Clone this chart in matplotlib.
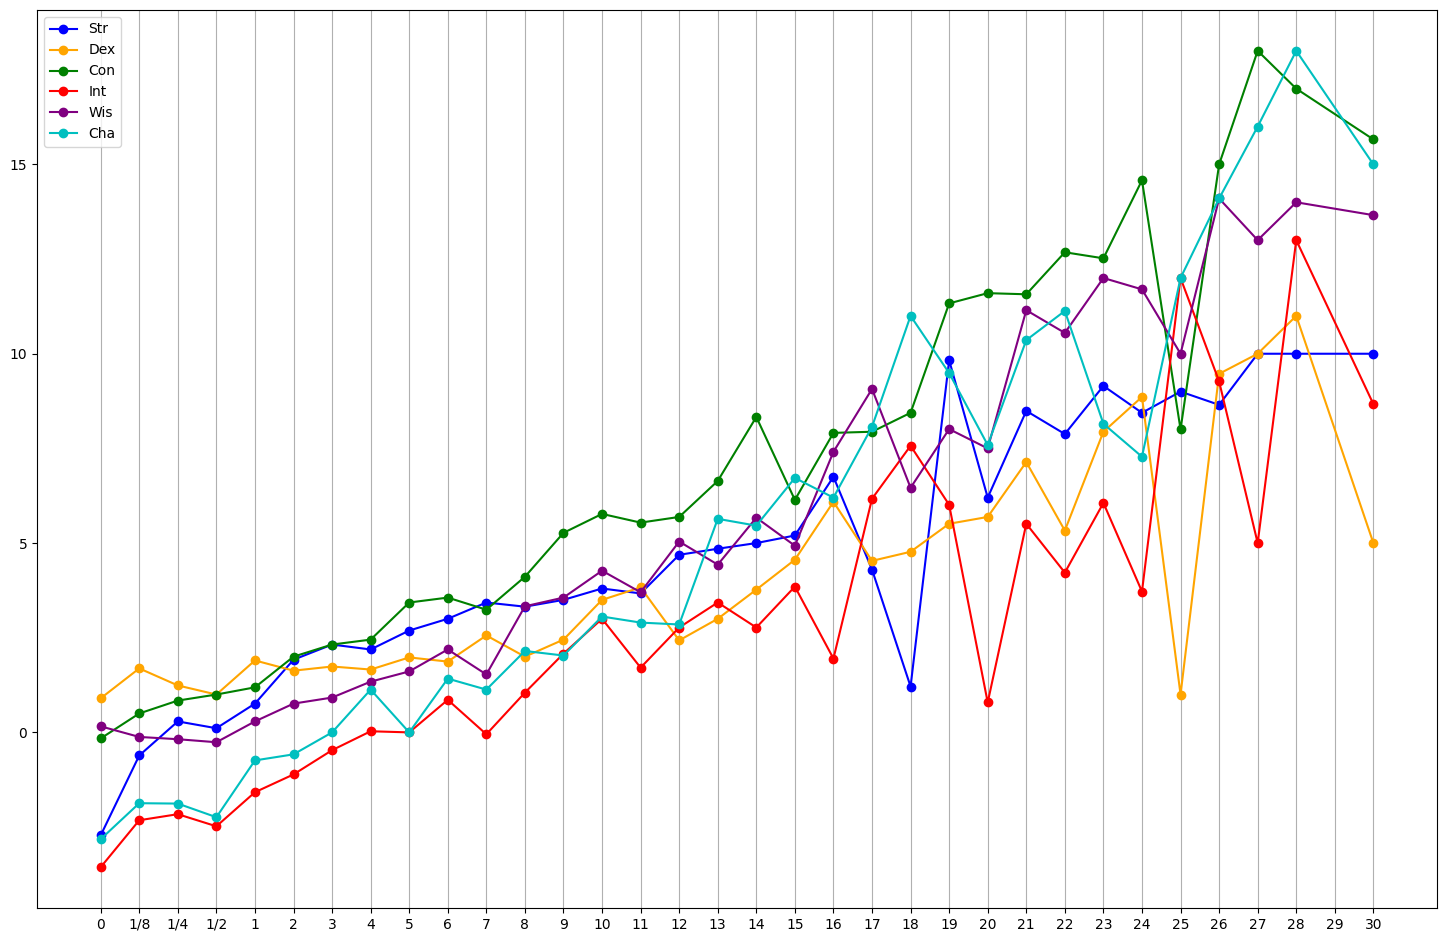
import matplotlib
matplotlib.use('Agg')
import matplotlib.pyplot as plt

# x axis categories (29 has no data)
tick_labels = ['0', '1/8', '1/4', '1/2'] + [str(i) for i in range(1, 31)]
levels = ['0', '1/8', '1/4', '1/2'] + [str(i) for i in range(1, 29)] + ['30']

str_vals = [-2.72, -0.61, 0.29, 0.11, 0.76, 1.92, 2.32, 2.19, 2.69, 3.0, 3.43, 3.32, 3.5, 3.8, 3.67,
            4.69, 4.85, 5.0, 5.2, 6.75, 4.3, 1.21, 9.83, 6.2, 8.49, 7.88, 9.15, 8.44, 9.0, 8.65,
            10.0, 10.0, 10.0]
dex_vals = [0.9, 1.69, 1.24, 1.0, 1.9, 1.63, 1.74, 1.66, 1.98, 1.87, 2.56, 2.0, 2.45, 3.5, 3.83,
            2.43, 3.0, 3.77, 4.56, 6.09, 4.53, 4.77, 5.51, 5.69, 7.14, 5.33, 7.94, 8.86, 1.0, 9.47,
            10.0, 11.0, 5.0]
con_vals = [-0.16, 0.5, 0.84, 1.0, 1.19, 2.0, 2.32, 2.45, 3.43, 3.56, 3.24, 4.11, 5.27, 5.77, 5.54,
            5.69, 6.64, 8.33, 6.14, 7.91, 7.94, 8.44, 11.33, 11.6, 11.57, 12.68, 12.52, 14.58, 8.0, 15.0,
            18.0, 17.0, 15.66]
int_vals = [-3.56, -2.32, -2.16, -2.48, -1.58, -1.11, -0.47, 0.03, 0.0, 0.86, -0.05, 1.05, 2.08, 3.0, 1.71,
            2.77, 3.43, 2.77, 3.85, 1.95, 6.17, 7.57, 6.01, 0.79, 5.51, 4.22, 6.06, 3.72, 12.0, 9.27,
            5.0, 13.0, 8.67]
wis_vals = [0.16, -0.12, -0.18, -0.26, 0.29, 0.76, 0.92, 1.34, 1.61, 2.19, 1.53, 3.33, 3.56, 4.27, 3.7,
            5.04, 4.43, 5.67, 4.93, 7.41, 9.07, 6.46, 8.01, 7.5, 11.15, 10.55, 12.0, 11.7, 10.0, 14.1,
            13.0, 14.0, 13.66]
cha_vals = [-2.82, -1.87, -1.88, -2.24, -0.74, -0.58, 0.0, 1.13, 0.0, 1.42, 1.13, 2.15, 2.03, 3.06, 2.9,
            2.85, 5.64, 5.46, 6.72, 6.2, 8.07, 11.0, 9.49, 7.59, 10.36, 11.13, 8.15, 7.28, 12.0, 14.1,
            16.0, 18.0, 15.0]

series = [('Str', str_vals, 'blue'), ('Dex', dex_vals, 'orange'), ('Con', con_vals, 'green'),
          ('Int', int_vals, 'red'), ('Wis', wis_vals, 'purple'), ('Cha', cha_vals, 'c')]

xpos = [tick_labels.index(l) for l in levels]

fig, ax = plt.subplots(figsize=(14.47, 9.43), dpi=100)
for name, vals, col in series:
    ax.plot(xpos, vals, marker='o', color=col, label=name)

ax.set_xticks(range(len(tick_labels)))
ax.set_xticklabels(tick_labels)
ax.grid(axis='x')
ax.legend(loc='upper left')
plt.subplots_adjust(left=0.0256, right=0.9931, top=0.9894, bottom=0.0371)
plt.savefig('out.png')
